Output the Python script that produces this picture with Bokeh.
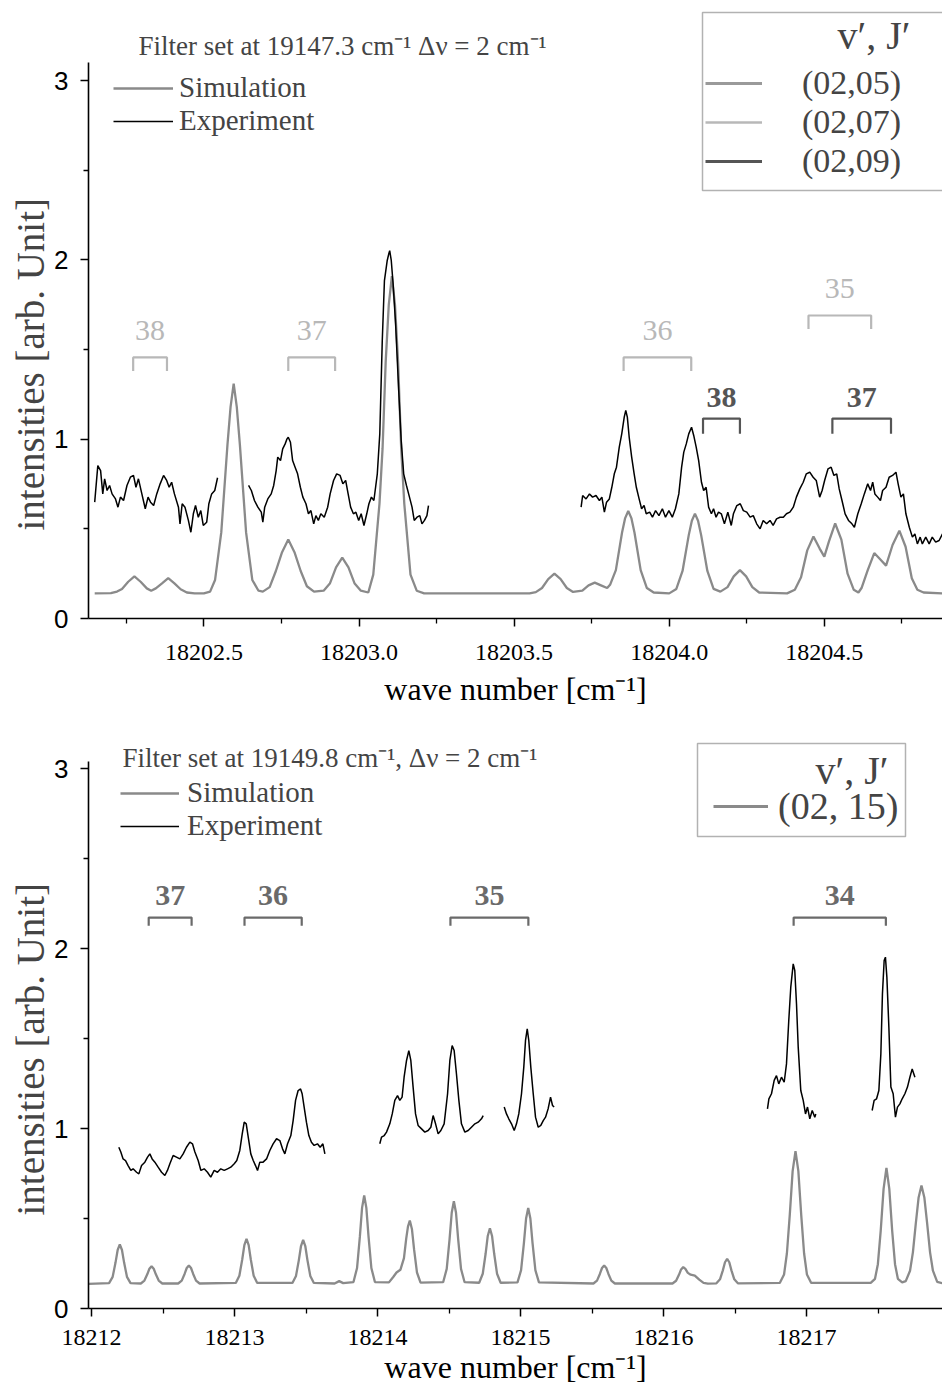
from bokeh.plotting import figure
from bokeh.models import (Range1d, FixedTicker, NumeralTickFormatter, Legend, LegendItem,
                          Label, BoxAnnotation, ColumnDataSource, Title)
from bokeh.layouts import column
from bokeh.embed import file_html
from bokeh.resources import INLINE
from bokeh.core.properties import value

SERIF = "Liberation Serif"
SANS = "Liberation Sans"

# ---------------- data : top panel ----------------
top_x_ticks = [18202.5, 18203.0, 18203.5, 18204.0, 18204.5]
top_x_minor = [18202.25, 18202.75, 18203.25, 18203.75, 18204.25, 18204.75]
y_ticks = [0, 1, 2, 3]
y_minor = [0.5, 1.5, 2.5]

top_sim = [(18202.148, 0.14), (18202.20, 0.141), (18202.22, 0.150), (18202.236, 0.165), (18202.256, 0.205),
           (18202.276, 0.235), (18202.296, 0.205), (18202.316, 0.168), (18202.330, 0.155), (18202.345, 0.168),
           (18202.365, 0.196), (18202.385, 0.225), (18202.405, 0.196), (18202.425, 0.163), (18202.445, 0.145),
           (18202.47, 0.14), (18202.50, 0.14), (18202.52, 0.15), (18202.536, 0.215), (18202.556, 0.48),
           (18202.576, 0.97), (18202.586, 1.18), (18202.596, 1.31), (18202.606, 1.18), (18202.616, 0.97),
           (18202.636, 0.48), (18202.656, 0.215), (18202.676, 0.155), (18202.69, 0.15), (18202.712, 0.175),
           (18202.732, 0.265), (18202.752, 0.37), (18202.772, 0.44), (18202.792, 0.37), (18202.812, 0.265),
           (18202.832, 0.18), (18202.855, 0.15), (18202.886, 0.155), (18202.906, 0.195), (18202.926, 0.285),
           (18202.946, 0.34), (18202.966, 0.285), (18202.986, 0.195), (18203.006, 0.155), (18203.03, 0.145),
           (18203.046, 0.245), (18203.066, 0.64), (18203.076, 0.95), (18203.086, 1.43), (18203.096, 1.75),
           (18203.106, 1.91), (18203.116, 1.75), (18203.126, 1.43), (18203.136, 0.95), (18203.146, 0.64),
           (18203.166, 0.245), (18203.186, 0.155), (18203.21, 0.14), (18203.55, 0.14), (18203.57, 0.147),
           (18203.59, 0.17), (18203.61, 0.22), (18203.63, 0.25), (18203.65, 0.22), (18203.67, 0.17),
           (18203.69, 0.148), (18203.72, 0.155), (18203.74, 0.185), (18203.76, 0.20), (18203.78, 0.185),
           (18203.80, 0.17), (18203.81, 0.19), (18203.828, 0.27), (18203.848, 0.48), (18203.858, 0.56),
           (18203.868, 0.60), (18203.878, 0.56), (18203.888, 0.48), (18203.908, 0.27), (18203.928, 0.17),
           (18203.95, 0.145), (18204.00, 0.14), (18204.023, 0.165), (18204.043, 0.265), (18204.063, 0.465),
           (18204.073, 0.545), (18204.083, 0.585), (18204.093, 0.545), (18204.103, 0.465), (18204.123, 0.265),
           (18204.143, 0.165), (18204.165, 0.15), (18204.188, 0.175), (18204.208, 0.235), (18204.228, 0.27),
           (18204.248, 0.235), (18204.268, 0.175), (18204.29, 0.145), (18204.38, 0.14), (18204.405, 0.16),
           (18204.425, 0.23), (18204.445, 0.38), (18204.465, 0.457), (18204.485, 0.39), (18204.50, 0.345),
           (18204.515, 0.43), (18204.535, 0.53), (18204.555, 0.44), (18204.575, 0.25), (18204.595, 0.16),
           (18204.61, 0.145), (18204.62, 0.17), (18204.64, 0.27), (18204.661, 0.365), (18204.68, 0.33),
           (18204.699, 0.295), (18204.72, 0.41), (18204.742, 0.49), (18204.762, 0.40), (18204.782, 0.225),
           (18204.80, 0.16), (18204.82, 0.145), (18204.881, 0.14)]

top_exp_a = [(18202.148, 0.649), (18202.158, 0.853), (18202.167, 0.825), (18202.174, 0.695), (18202.180, 0.779),
             (18202.188, 0.714), (18202.196, 0.742), (18202.204, 0.695), (18202.215, 0.667), (18202.223, 0.621),
             (18202.231, 0.677), (18202.241, 0.658), (18202.252, 0.742), (18202.263, 0.788), (18202.273, 0.798),
             (18202.281, 0.732), (18202.289, 0.779), (18202.300, 0.695), (18202.311, 0.612), (18202.320, 0.677),
             (18202.328, 0.649), (18202.338, 0.630), (18202.348, 0.695), (18202.359, 0.751), (18202.370, 0.798),
             (18202.380, 0.770), (18202.388, 0.732), (18202.396, 0.760), (18202.405, 0.695), (18202.418, 0.621),
             (18202.423, 0.528), (18202.430, 0.640), (18202.439, 0.621), (18202.450, 0.547), (18202.458, 0.481),
             (18202.466, 0.584), (18202.473, 0.630), (18202.482, 0.565), (18202.490, 0.602), (18202.498, 0.519),
             (18202.509, 0.537), (18202.516, 0.640), (18202.525, 0.695), (18202.535, 0.714), (18202.544, 0.785)]

top_exp_b = [(18202.644, 0.742), (18202.653, 0.714), (18202.663, 0.658), (18202.674, 0.621), (18202.685, 0.593),
             (18202.690, 0.537), (18202.696, 0.621), (18202.706, 0.667), (18202.717, 0.695), (18202.725, 0.742),
             (18202.733, 0.825), (18202.738, 0.900), (18202.747, 0.881), (18202.754, 0.946), (18202.762, 0.974),
             (18202.768, 1.002), (18202.772, 1.011), (18202.779, 0.983), (18202.786, 0.881), (18202.794, 0.844),
             (18202.802, 0.807), (18202.811, 0.732), (18202.819, 0.677), (18202.829, 0.640), (18202.837, 0.584),
             (18202.845, 0.602), (18202.854, 0.528), (18202.861, 0.574), (18202.869, 0.547), (18202.877, 0.584),
             (18202.888, 0.565), (18202.899, 0.621), (18202.907, 0.695), (18202.918, 0.770), (18202.928, 0.807),
             (18202.939, 0.798), (18202.948, 0.751), (18202.957, 0.770), (18202.965, 0.695), (18202.973, 0.621),
             (18202.982, 0.584), (18202.990, 0.593), (18202.999, 0.547), (18203.007, 0.584), (18203.016, 0.519),
             (18203.025, 0.584), (18203.032, 0.640), (18203.040, 0.677), (18203.048, 0.658), (18203.059, 0.807),
             (18203.067, 1.030), (18203.075, 1.550), (18203.082, 1.885), (18203.091, 1.997), (18203.096, 2.034),
             (18203.099, 2.052), (18203.104, 1.997), (18203.110, 1.866), (18203.118, 1.643), (18203.128, 1.272),
             (18203.136, 0.993), (18203.144, 0.807), (18203.153, 0.742), (18203.160, 0.695), (18203.171, 0.621),
             (18203.178, 0.547), (18203.187, 0.565), (18203.196, 0.574), (18203.203, 0.528), (18203.211, 0.547),
             (18203.219, 0.574), (18203.224, 0.630)]

top_exp_c = [(18203.716, 0.621), (18203.721, 0.686), (18203.732, 0.667), (18203.743, 0.695), (18203.753, 0.677),
             (18203.764, 0.686), (18203.775, 0.658), (18203.783, 0.677), (18203.791, 0.593), (18203.798, 0.649),
             (18203.807, 0.667), (18203.815, 0.732), (18203.823, 0.807), (18203.830, 0.844), (18203.839, 0.956),
             (18203.847, 1.030), (18203.855, 1.123), (18203.860, 1.160), (18203.865, 1.123), (18203.871, 1.011),
             (18203.879, 0.900), (18203.887, 0.807), (18203.894, 0.732), (18203.903, 0.667), (18203.911, 0.612),
             (18203.919, 0.630), (18203.926, 0.584), (18203.937, 0.593), (18203.946, 0.565), (18203.956, 0.602),
             (18203.967, 0.574), (18203.978, 0.612), (18203.988, 0.565), (18203.999, 0.602), (18204.010, 0.565),
             (18204.020, 0.612), (18204.031, 0.695), (18204.040, 0.844), (18204.047, 0.928), (18204.055, 0.974),
             (18204.063, 1.030), (18204.072, 1.067), (18204.079, 1.021), (18204.087, 0.956), (18204.095, 0.881),
             (18204.104, 0.760), (18204.111, 0.714), (18204.119, 0.732), (18204.127, 0.621), (18204.136, 0.584),
             (18204.143, 0.612), (18204.151, 0.565), (18204.159, 0.593), (18204.168, 0.584), (18204.178, 0.528),
             (18204.189, 0.593), (18204.200, 0.519), (18204.207, 0.584), (18204.218, 0.630), (18204.229, 0.640),
             (18204.239, 0.602), (18204.250, 0.593), (18204.261, 0.565), (18204.271, 0.574), (18204.282, 0.528),
             (18204.293, 0.500), (18204.303, 0.547), (18204.314, 0.528), (18204.325, 0.547), (18204.335, 0.519),
             (18204.346, 0.556), (18204.357, 0.565), (18204.368, 0.565), (18204.378, 0.584), (18204.389, 0.593),
             (18204.400, 0.621), (18204.410, 0.677), (18204.421, 0.723), (18204.432, 0.760), (18204.442, 0.807),
             (18204.453, 0.816), (18204.464, 0.788), (18204.474, 0.770), (18204.485, 0.677), (18204.493, 0.714),
             (18204.501, 0.770), (18204.512, 0.835), (18204.522, 0.844), (18204.531, 0.798), (18204.540, 0.807),
             (18204.548, 0.723), (18204.557, 0.658), (18204.567, 0.584), (18204.578, 0.547), (18204.589, 0.528),
             (18204.597, 0.509), (18204.608, 0.584), (18204.619, 0.640), (18204.629, 0.695), (18204.640, 0.751),
             (18204.649, 0.714), (18204.656, 0.760), (18204.663, 0.695), (18204.672, 0.677), (18204.681, 0.658),
             (18204.688, 0.714), (18204.699, 0.732), (18204.709, 0.788), (18204.720, 0.798), (18204.731, 0.816),
             (18204.738, 0.751), (18204.747, 0.677), (18204.755, 0.695), (18204.763, 0.584), (18204.774, 0.509),
             (18204.784, 0.454), (18204.792, 0.472), (18204.800, 0.416), (18204.809, 0.454), (18204.816, 0.416),
             (18204.827, 0.454), (18204.838, 0.416), (18204.848, 0.454), (18204.859, 0.426), (18204.870, 0.435),
             (18204.881, 0.472)]

top_bracket_labels = ["38", "37", "36", "35", "38", "37"]
top_bracket_start = [18202.272, 18202.772, 18203.853, 18204.449, 18204.109, 18204.526]
top_bracket_end = [18202.381, 18202.923, 18204.071, 18204.651, 18204.228, 18204.715]
top_bracket_level = [1.456, 1.456, 1.456, 1.69, 1.115, 1.115]
top_bracket_group = ["(02,07)", "(02,07)", "(02,07)", "(02,07)", "(02,09)", "(02,09)"]
top_levels = ["(02,05)", "(02,07)", "(02,09)"]

# ---------------- data : bottom panel ----------------
bot_x_ticks = [18212, 18213, 18214, 18215, 18216, 18217]
bot_x_minor = [18212.5, 18213.5, 18214.5, 18215.5, 18216.5, 18217.5]

bot_sim = [(18211.979, 0.137), (18212.123, 0.141), (18212.148, 0.176), (18212.168, 0.255), (18212.183, 0.325),
           (18212.198, 0.356), (18212.213, 0.325), (18212.228, 0.255), (18212.248, 0.176), (18212.273, 0.141),
           (18212.345, 0.139), (18212.37, 0.155), (18212.39, 0.19), (18212.405, 0.221), (18212.42, 0.235),
           (18212.435, 0.221), (18212.45, 0.19), (18212.47, 0.155), (18212.495, 0.139),
           (18212.606, 0.139), (18212.631, 0.155), (18212.651, 0.192), (18212.666, 0.225), (18212.681, 0.239),
           (18212.696, 0.225), (18212.711, 0.192), (18212.731, 0.155), (18212.756, 0.139),
           (18213.009, 0.142), (18213.034, 0.182), (18213.054, 0.272), (18213.069, 0.352), (18213.084, 0.387),
           (18213.099, 0.352), (18213.114, 0.272), (18213.134, 0.182), (18213.159, 0.142),
           (18213.405, 0.142), (18213.43, 0.181), (18213.45, 0.269), (18213.465, 0.347), (18213.48, 0.381),
           (18213.495, 0.347), (18213.51, 0.269), (18213.53, 0.181), (18213.555, 0.142),
           (18213.70, 0.139), (18213.732, 0.152), (18213.76, 0.141),
           (18213.832, 0.147), (18213.857, 0.225), (18213.877, 0.402), (18213.892, 0.559), (18213.907, 0.628),
           (18213.922, 0.559), (18213.937, 0.402), (18213.957, 0.225), (18213.982, 0.147),
           (18214.08, 0.145), (18214.11, 0.175), (18214.133, 0.2), (18214.16, 0.215), (18214.185, 0.28),
           (18214.201, 0.39), (18214.213, 0.455), (18214.226, 0.489), (18214.241, 0.44), (18214.256, 0.327),
           (18214.276, 0.2), (18214.301, 0.144),
           (18214.459, 0.146), (18214.484, 0.22), (18214.504, 0.385), (18214.519, 0.532), (18214.534, 0.596),
           (18214.549, 0.532), (18214.564, 0.385), (18214.584, 0.22), (18214.609, 0.146),
           (18214.711, 0.143), (18214.736, 0.193), (18214.756, 0.304), (18214.771, 0.403), (18214.786, 0.446),
           (18214.801, 0.403), (18214.816, 0.304), (18214.836, 0.193), (18214.861, 0.143),
           (18214.979, 0.145), (18215.004, 0.213), (18215.024, 0.365), (18215.039, 0.5), (18215.054, 0.559),
           (18215.069, 0.5), (18215.084, 0.365), (18215.104, 0.213), (18215.129, 0.145),
           (18215.51, 0.139), (18215.535, 0.155), (18215.555, 0.192), (18215.57, 0.225), (18215.585, 0.239),
           (18215.60, 0.225), (18215.615, 0.192), (18215.635, 0.155), (18215.66, 0.139),
           (18216.063, 0.139), (18216.088, 0.154), (18216.108, 0.187), (18216.123, 0.217), (18216.138, 0.23),
           (18216.153, 0.22), (18216.17, 0.198), (18216.19, 0.188), (18216.219, 0.183), (18216.25, 0.16),
           (18216.28, 0.142), (18216.31, 0.138),
           (18216.37, 0.14), (18216.395, 0.162), (18216.415, 0.212), (18216.43, 0.257), (18216.445, 0.276),
           (18216.46, 0.257), (18216.475, 0.212), (18216.495, 0.162), (18216.52, 0.14),
           (18216.813, 0.142), (18216.843, 0.189), (18216.863, 0.307), (18216.883, 0.52), (18216.903, 0.763),
           (18216.923, 0.874), (18216.943, 0.763), (18216.963, 0.52), (18216.983, 0.307), (18217.003, 0.189),
           (18217.033, 0.142),
           (18217.449, 0.142), (18217.479, 0.165), (18217.499, 0.246), (18217.519, 0.433), (18217.539, 0.665),
           (18217.559, 0.781), (18217.579, 0.665), (18217.599, 0.433), (18217.619, 0.246), (18217.639, 0.165),
           (18217.669, 0.145), (18217.694, 0.152), (18217.724, 0.21), (18217.744, 0.312), (18217.764, 0.47),
           (18217.784, 0.617), (18217.804, 0.683), (18217.824, 0.617), (18217.844, 0.47), (18217.864, 0.312),
           (18217.884, 0.21), (18217.914, 0.148), (18217.951, 0.14)]

bot_exp_a = [(18212.191, 0.896), (18212.205, 0.869), (18212.221, 0.831), (18212.238, 0.822), (18212.256, 0.794),
             (18212.275, 0.767), (18212.291, 0.776), (18212.315, 0.757), (18212.331, 0.748), (18212.350, 0.794),
             (18212.373, 0.813), (18212.392, 0.841), (18212.408, 0.859), (18212.424, 0.831), (18212.443, 0.813),
             (18212.466, 0.785), (18212.490, 0.757), (18212.513, 0.739), (18212.531, 0.767), (18212.548, 0.804),
             (18212.571, 0.850), (18212.594, 0.841), (18212.618, 0.831), (18212.641, 0.859), (18212.664, 0.896),
             (18212.688, 0.924), (18212.706, 0.915), (18212.723, 0.869), (18212.746, 0.822), (18212.765, 0.767),
             (18212.788, 0.776), (18212.811, 0.757), (18212.834, 0.730), (18212.858, 0.767), (18212.881, 0.757),
             (18212.904, 0.776), (18212.928, 0.767), (18212.951, 0.776), (18212.974, 0.785), (18212.998, 0.804),
             (18213.016, 0.822), (18213.037, 0.878), (18213.054, 0.970), (18213.068, 1.035), (18213.082, 1.026),
             (18213.096, 0.952), (18213.114, 0.859), (18213.131, 0.822), (18213.147, 0.794), (18213.161, 0.767),
             (18213.177, 0.813), (18213.200, 0.813), (18213.224, 0.831), (18213.247, 0.878), (18213.270, 0.915),
             (18213.294, 0.943), (18213.317, 0.933), (18213.336, 0.887), (18213.352, 0.859), (18213.371, 0.915),
             (18213.394, 0.961), (18213.410, 1.044), (18213.427, 1.156), (18213.445, 1.211), (18213.462, 1.220),
             (18213.473, 1.193), (18213.487, 1.119), (18213.503, 1.035), (18213.520, 0.961), (18213.538, 0.924),
             (18213.557, 0.906), (18213.580, 0.915), (18213.599, 0.896), (18213.618, 0.915), (18213.632, 0.859)]

bot_exp_b = [(18214.016, 0.915), (18214.028, 0.952), (18214.047, 0.961), (18214.063, 0.980), (18214.086, 1.026),
             (18214.103, 1.081), (18214.121, 1.156), (18214.140, 1.183), (18214.156, 1.156), (18214.172, 1.174),
             (18214.186, 1.285), (18214.203, 1.378), (18214.219, 1.433), (18214.233, 1.378), (18214.249, 1.230),
             (18214.266, 1.081), (18214.284, 1.017), (18214.308, 0.998), (18214.331, 0.980), (18214.354, 0.989),
             (18214.373, 1.007), (18214.389, 1.072), (18214.406, 1.026), (18214.424, 0.970), (18214.443, 0.989),
             (18214.466, 1.026), (18214.490, 1.193), (18214.506, 1.378), (18214.522, 1.461), (18214.536, 1.433),
             (18214.552, 1.304), (18214.569, 1.156), (18214.587, 1.026), (18214.611, 0.980), (18214.634, 0.989),
             (18214.657, 1.007), (18214.681, 1.026), (18214.704, 1.035), (18214.727, 1.054), (18214.739, 1.072)]

bot_exp_c = [(18214.886, 1.119), (18214.902, 1.081), (18214.918, 1.054), (18214.937, 1.026), (18214.956, 0.989),
             (18214.972, 1.026), (18214.988, 1.081), (18215.007, 1.193), (18215.023, 1.341), (18215.035, 1.489),
             (18215.047, 1.554), (18215.058, 1.489), (18215.072, 1.341), (18215.089, 1.193), (18215.105, 1.063),
             (18215.124, 1.007), (18215.142, 1.017), (18215.159, 1.044), (18215.175, 1.063), (18215.193, 1.109),
             (18215.210, 1.174), (18215.224, 1.128), (18215.235, 1.119)]

bot_exp_d = [(18216.727, 1.109), (18216.737, 1.165), (18216.755, 1.193), (18216.774, 1.267), (18216.790, 1.294),
             (18216.806, 1.248), (18216.825, 1.285), (18216.844, 1.257), (18216.860, 1.359), (18216.876, 1.600),
             (18216.890, 1.785), (18216.907, 1.915), (18216.918, 1.878), (18216.930, 1.693), (18216.942, 1.452),
             (18216.960, 1.211), (18216.977, 1.156), (18216.993, 1.081), (18217.007, 1.119), (18217.023, 1.054),
             (18217.040, 1.100), (18217.058, 1.063), (18217.065, 1.081)]

bot_exp_e = [(18217.459, 1.100), (18217.473, 1.156), (18217.490, 1.165), (18217.506, 1.211), (18217.520, 1.415),
             (18217.531, 1.748), (18217.543, 1.933), (18217.552, 1.952), (18217.562, 1.841), (18217.576, 1.563),
             (18217.590, 1.230), (18217.606, 1.193), (18217.622, 1.063), (18217.636, 1.119), (18217.653, 1.137),
             (18217.669, 1.165), (18217.688, 1.193), (18217.706, 1.230), (18217.723, 1.285), (18217.739, 1.331),
             (18217.758, 1.285)]

bot_bracket_labels = ["37", "36", "35", "34"]
bot_bracket_start = [18212.40, 18213.07, 18214.51, 18216.91]
bot_bracket_end = [18212.70, 18213.47, 18215.055, 18217.555]
bot_bracket_level = [2.172, 2.172, 2.172, 2.172]
bot_levels = ["(02, 15)"]

# ---------------- styles ----------------
SIM_COLOR = "#8a8a8a"
EXP_COLOR = "#000000"
GROUP_COLOR = {"(02,05)": "#9a9a9a", "(02,07)": "#b8b8b8", "(02,09)": "#555555", "(02, 15)": "#8a8a8a"}


def xy(pairs):
    return [p[0] for p in pairs], [p[1] for p in pairs]


def base_figure(height, xr, yr, left, bottom, ybound, xticks, xminor, xfmt, xstand, xlabstand, ylab_offset):
    p = figure(width=942, height=height, x_range=Range1d(*xr), y_range=Range1d(*yr),
               output_backend="svg", toolbar_location=None,
               min_border_left=left, min_border_right=0, min_border_top=0, min_border_bottom=bottom)
    p.outline_line_color = None
    p.xgrid.visible = False
    p.ygrid.visible = False
    p.background_fill_color = "white"
    xa = p.xaxis[0]
    xa.ticker = FixedTicker(ticks=xticks, minor_ticks=xminor)
    xa.formatter = NumeralTickFormatter(format=xfmt)
    xa.axis_label = "wave number [cm\u207b\u00b9]"
    xa.axis_label_text_font = SERIF
    xa.axis_label_text_font_style = "normal"
    xa.axis_label_text_font_size = "32px"
    xa.axis_label_standoff = xlabstand
    xa.major_label_text_font = SERIF
    xa.major_label_text_font_size = "24px"
    xa.major_label_standoff = xstand
    ya = p.yaxis[0]
    ya.ticker = FixedTicker(ticks=y_ticks, minor_ticks=y_minor)
    ya.bounds = ybound
    ya.major_label_text_font = SANS
    ya.major_label_text_font_size = "26px"
    ya.major_label_standoff = 12
    for ax in (xa, ya):
        ax.axis_line_width = 1.6
        ax.major_tick_line_width = 1.5
        ax.minor_tick_line_width = 1.3
        ax.major_tick_out = 8
        ax.major_tick_in = 0
        ax.minor_tick_out = 5
        ax.minor_tick_in = 0
        ax.axis_line_color = "black"
        ax.major_label_text_color = "black"
        ax.axis_label_text_color = "black"
    p.add_layout(Title(text="intensities [arb. Unit]", align="left", offset=ylab_offset,
                       text_font=SERIF, text_font_size="39px", text_font_style="normal",
                       standoff=0), "left")
    return p


def add_brackets(p, starts, ends, levels, labels, colors, leg, text_off, size, style="normal"):
    src = ColumnDataSource(dict(
        xs=[[a, a, b, b] for a, b in zip(starts, ends)],
        ys=[[y - leg, y, y, y - leg] for y in levels],
        color=colors))
    p.multi_line(xs="xs", ys="ys", line_color="color", line_width=2.2, source=src)
    tsrc = ColumnDataSource(dict(
        x=[(a + b) / 2 for a, b in zip(starts, ends)],
        y=[y + text_off for y in levels],
        text=labels, color=colors))
    p.text(x="x", y="y", text="text", source=tsrc, text_color="color",
           text_font=value(SERIF), text_font_size=value(size), text_font_style=style,
           text_align="center", text_baseline="middle")


def legend_sample(p, color, width, x0):
    # a one-point renderer (no visible mark) that only feeds a legend sample
    return p.line([x0], [float("nan")], line_color=color, line_width=width)


def one_item_legend(label, renderer, loc, size, glyph_w, standoff):
    return Legend(items=[LegendItem(label=label, renderers=[renderer])], location=loc,
                  border_line_color=None, background_fill_alpha=0, label_text_font=SERIF,
                  label_text_font_size=size, glyph_width=glyph_w, glyph_height=30, label_height=30,
                  label_standoff=standoff, spacing=0, padding=0, margin=0)


# ---------------- top panel ----------------
p1 = base_figure(714, (18202.128, 18204.881), (0, 3.447), 83, 96, (0, 3.1),
                 top_x_ticks, top_x_minor, "0.0", 18, 8, 88)

sx, sy = xy(top_sim)
r_sim1 = p1.line(sx, sy, line_color=SIM_COLOR, line_width=2.3)
exp_r = []
for seg in (top_exp_a, top_exp_b, top_exp_c):
    ex, ey = xy(seg)
    exp_r.append(p1.line(ex, ey, line_color=EXP_COLOR, line_width=1.5))

light = [i for i, g in enumerate(top_bracket_group) if g == "(02,07)"]
dark = [i for i, g in enumerate(top_bracket_group) if g == "(02,09)"]
add_brackets(p1, [top_bracket_start[i] for i in light], [top_bracket_end[i] for i in light],
             [top_bracket_level[i] for i in light], [top_bracket_labels[i] for i in light],
             [GROUP_COLOR["(02,07)"]] * len(light), 0.075, 0.15, "30px")
add_brackets(p1, [top_bracket_start[i] for i in dark], [top_bracket_end[i] for i in dark],
             [top_bracket_level[i] for i in dark], [top_bracket_labels[i] for i in dark],
             [GROUP_COLOR["(02,09)"]] * len(dark), 0.085, 0.12, "30px", "bold")

p1.add_layout(Label(x=50, y=573, x_units="screen", y_units="screen",
                    text="Filter set at 19147.3 cm\u207b\u00b9  \u0394\u03bd = 2 cm\u207b\u00b9",
                    text_font=SERIF, text_font_size="27px", text_baseline="middle"))
p1.add_layout(Legend(items=[LegendItem(label="Simulation", renderers=[r_sim1]),
                            LegendItem(label="Experiment", renderers=[exp_r[0]])],
                     location=(25, 481), border_line_color=None, background_fill_alpha=0,
                     label_text_font=SERIF, label_text_font_size="29px", glyph_width=60,
                     glyph_height=30, label_height=30, label_standoff=6, spacing=0, padding=0, margin=0))

samples = [legend_sample(p1, GROUP_COLOR[g], 2.4 if g == "(02,07)" else 3, top_x_ticks[0]) for g in top_levels]
p1.add_layout(BoxAnnotation(left=614, right=857, top=606, bottom=428, left_units="screen",
                            right_units="screen", top_units="screen", bottom_units="screen",
                            fill_alpha=0, line_color="black", line_width=1.5))
p1.add_layout(Label(x=822, y=583, x_units="screen", y_units="screen", text="v\u2032, J\u2032",
                    text_font=SERIF, text_font_size="40px", text_align="right", text_baseline="middle"))
for g, r, vy in zip(top_levels, samples, (516, 477, 438)):
    p1.add_layout(one_item_legend(g, r, (617, vy), "34px", 57, 40))

# ---------------- bottom panel ----------------
p2 = base_figure(673, (18211.979, 18217.951), (0, 3.3), 88, 79, (0, 3.04),
                 bot_x_ticks, bot_x_minor, "0", 13, 1, 93)

sx, sy = xy(bot_sim)
r_sim2 = p2.line(sx, sy, line_color=SIM_COLOR, line_width=2.3)
exp_r2 = []
for seg in (bot_exp_a, bot_exp_b, bot_exp_c, bot_exp_d, bot_exp_e):
    ex, ey = xy(seg)
    exp_r2.append(p2.line(ex, ey, line_color=EXP_COLOR, line_width=1.5))

add_brackets(p2, bot_bracket_start, bot_bracket_end, bot_bracket_level, bot_bracket_labels,
             ["#6a6a6a"] * len(bot_bracket_labels), 0.045, 0.12, "30px", "bold")

p2.add_layout(Label(x=34, y=551, x_units="screen", y_units="screen",
                    text="Filter set at 19149.8 cm\u207b\u00b9, \u0394\u03bd = 2 cm\u207b\u00b9",
                    text_font=SERIF, text_font_size="27px", text_baseline="middle"))
p2.add_layout(Legend(items=[LegendItem(label="Simulation", renderers=[r_sim2]),
                            LegendItem(label="Experiment", renderers=[exp_r2[0]])],
                     location=(32, 466), border_line_color=None, background_fill_alpha=0,
                     label_text_font=SERIF, label_text_font_size="29px", glyph_width=59,
                     glyph_height=28, label_height=28, label_standoff=8, spacing=0, padding=0, margin=0))
s15 = legend_sample(p2, GROUP_COLOR["(02, 15)"], 3, bot_x_ticks[0])
p2.add_layout(BoxAnnotation(left=609, right=817, top=565, bottom=472, left_units="screen",
                            right_units="screen", top_units="screen", bottom_units="screen",
                            fill_alpha=0, line_color="black", line_width=1.5))
p2.add_layout(Label(x=800, y=538, x_units="screen", y_units="screen", text="v\u2032, J\u2032",
                    text_font=SERIF, text_font_size="40px", text_align="right", text_baseline="middle"))
p2.add_layout(one_item_legend(bot_levels[0], s15, (625, 480), "38px", 55, 10))

layout = column(p1, p2, spacing=0)
open("out.html", "w").write(file_html(layout, INLINE))
